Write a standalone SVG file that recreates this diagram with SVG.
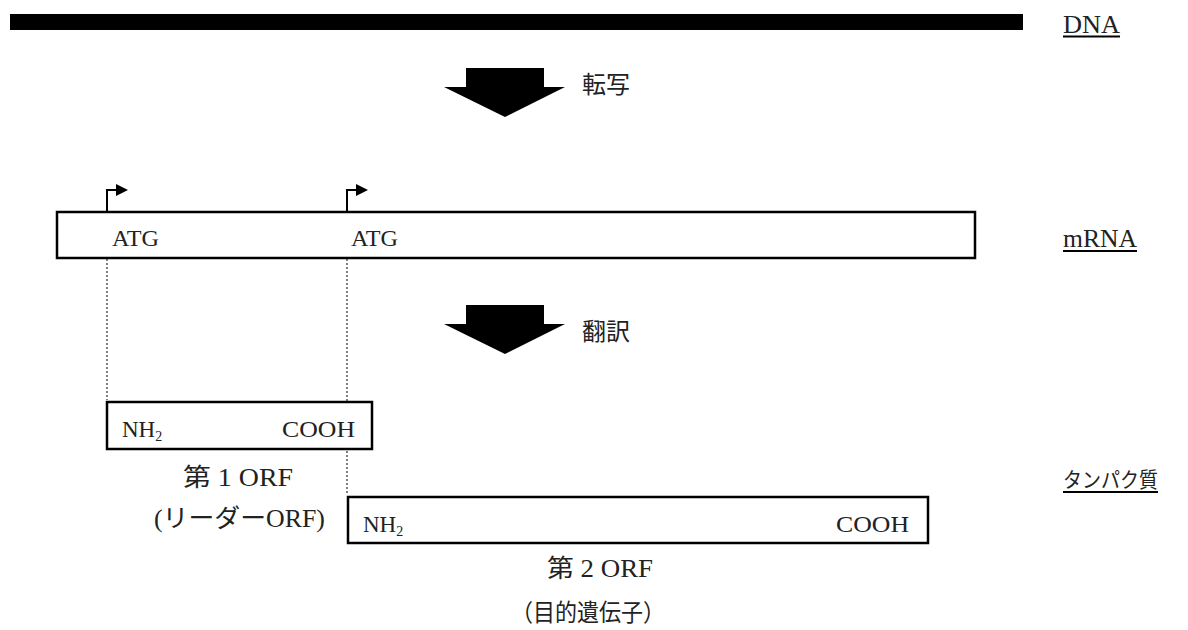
<svg xmlns="http://www.w3.org/2000/svg" width="1188" height="630" viewBox="0 0 1188 630">
<style>
.lat{font-family:"Liberation Serif","Noto Sans CJK JP",serif;fill:#222;}
.jp{font-family:"Noto Sans CJK JP","Liberation Sans",sans-serif;fill:#222;}
.box{fill:#fff;stroke:#000;stroke-width:2.5;}
.dot{stroke:#000;stroke-width:1;stroke-dasharray:2,2;fill:none;}
.ul{stroke:#000;stroke-width:2;}
.big{fill:#000;}
</style>
<defs>
<marker id="flag" markerWidth="12" markerHeight="12" refX="1" refY="6" orient="auto" markerUnits="userSpaceOnUse">
<path d="M0,0 L12,6 L0,12 Z" fill="#000"/>
</marker>
</defs>
<g id="dna">
<rect x="10" y="14" width="1013" height="16" fill="#000"/>
<text class="lat" x="1063" y="33" font-size="26" textLength="57" lengthAdjust="spacingAndGlyphs">DNA</text>
<line class="ul" x1="1063" y1="36.5" x2="1120" y2="36.5"/>
</g>
<g id="transcription">
<polygon class="big" points="466,68 544,68 544,87 565,87 505,117 444,87 466,87"/>
<text class="jp" x="582" y="93" font-size="24">転写</text>
</g>
<g id="mrna">
<rect class="box" x="57" y="212" width="918" height="46"/>
<text class="lat" x="112" y="246" font-size="23" textLength="47" lengthAdjust="spacingAndGlyphs">ATG</text>
<text class="lat" x="351" y="246" font-size="23" textLength="47" lengthAdjust="spacingAndGlyphs">ATG</text>
<text class="lat" x="1063" y="247" font-size="26" textLength="74" lengthAdjust="spacingAndGlyphs">mRNA</text>
<line class="ul" x1="1063" y1="251" x2="1137" y2="251"/>
</g>
<g id="connectors">
<polyline points="107,211 107,190 117,190" fill="none" stroke="#000" stroke-width="2" marker-end="url(#flag)"/>
<polyline points="347,211 347,190 357,190" fill="none" stroke="#000" stroke-width="2" marker-end="url(#flag)"/>
<line class="dot" x1="107" y1="259" x2="107" y2="400"/>
<line class="dot" x1="347" y1="259" x2="347" y2="495"/>
</g>
<g id="translation">
<polygon class="big" points="466,305 544,305 544,324 565,324 505,354 444,324 466,324"/>
<text class="jp" x="582" y="340" font-size="24">翻訳</text>
</g>
<g id="orf1">
<rect class="box" x="107" y="402" width="265" height="47"/>
<text class="lat" x="122" y="437" font-size="23">NH<tspan font-size="14" dy="4">2</tspan></text>
<text class="lat" x="282" y="437" font-size="23" textLength="73" lengthAdjust="spacingAndGlyphs">COOH</text>
<text class="lat" x="183" y="486" font-size="25" textLength="110" lengthAdjust="spacingAndGlyphs">第 1 ORF</text>
<text class="lat" x="154" y="527" font-size="25" textLength="171" lengthAdjust="spacingAndGlyphs">(リーダーORF)</text>
</g>
<g id="orf2">
<rect class="box" x="348" y="497" width="580" height="46"/>
<text class="lat" x="363" y="532" font-size="23">NH<tspan font-size="14" dy="4">2</tspan></text>
<text class="lat" x="836" y="532" font-size="23" textLength="73" lengthAdjust="spacingAndGlyphs">COOH</text>
<text class="lat" x="547" y="577" font-size="25" textLength="106" lengthAdjust="spacingAndGlyphs">第 2 ORF</text>
<text class="jp" x="511" y="621" font-size="24" textLength="154" lengthAdjust="spacingAndGlyphs">（目的遺伝子）</text>
</g>
<g id="protein-label">
<text class="jp" x="1063" y="487" font-size="21" textLength="95" lengthAdjust="spacingAndGlyphs">タンパク質</text>
<line class="ul" x1="1063" y1="492" x2="1158" y2="492"/>
</g>
</svg>
